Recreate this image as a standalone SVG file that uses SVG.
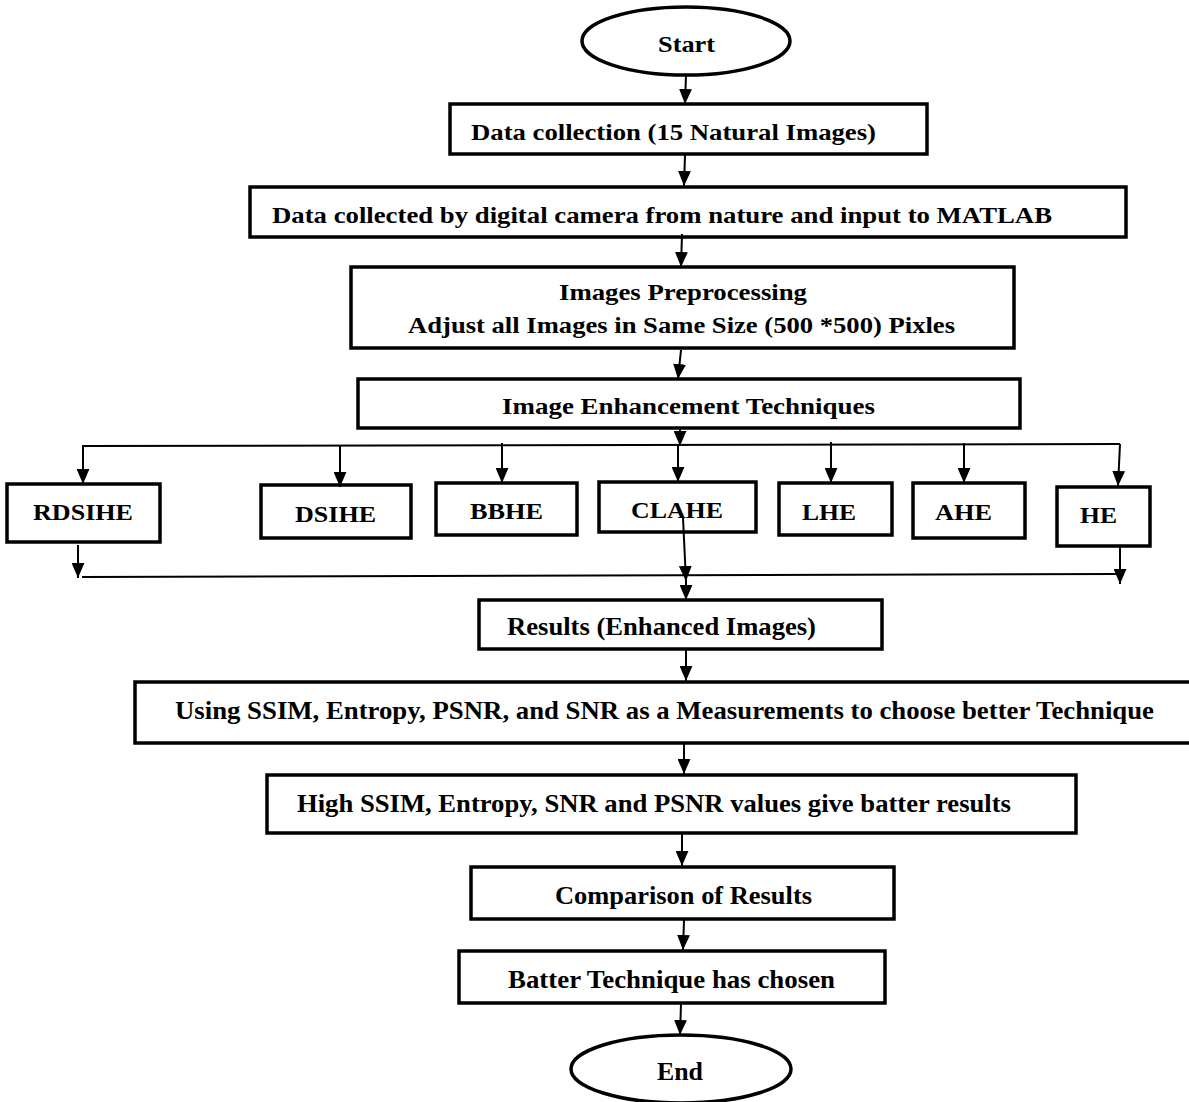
<svg xmlns="http://www.w3.org/2000/svg" width="1189" height="1102" viewBox="0 0 1189 1102">
<defs>
<style>
.box{fill:#fff;stroke:#000;stroke-width:3.5}
.conn{fill:none;stroke:#000;stroke-width:2}
.t{font-family:"Liberation Serif","Times New Roman",serif;font-weight:bold;font-size:24px;fill:#000}
.t2{font-family:"Liberation Serif","Times New Roman",serif;font-weight:bold;font-size:26px;fill:#000}
</style>
<marker id="arr" viewBox="0 0 14 12" refX="14" refY="6" markerWidth="15" markerHeight="13" markerUnits="userSpaceOnUse" orient="auto">
<path d="M0,0 L14,6 L0,12 z" fill="#000"/>
</marker>
</defs>
<rect width="1189" height="1102" fill="#fff"/>

<g id="start">
<ellipse class="box" cx="686" cy="41" rx="104" ry="34"/>
<text class="t" x="658" y="52" textLength="57" lengthAdjust="spacingAndGlyphs">Start</text>
</g>
<g id="data-collection">
<rect class="box" x="450" y="104" width="477" height="50"/>
<text class="t" x="471" y="140" textLength="405" lengthAdjust="spacingAndGlyphs">Data collection (15 Natural Images)</text>
</g>
<g id="data-collected">
<rect class="box" x="250" y="187" width="876" height="50"/>
<text class="t" x="272" y="223" textLength="780" lengthAdjust="spacingAndGlyphs">Data collected by digital camera from nature and input to MATLAB</text>
</g>
<g id="preprocessing">
<rect class="box" x="351" y="267" width="663" height="81"/>
<text class="t" x="559" y="300" textLength="248" lengthAdjust="spacingAndGlyphs">Images Preprocessing</text>
<text class="t" x="408" y="333" textLength="547" lengthAdjust="spacingAndGlyphs">Adjust all Images in Same Size (500 *500) Pixles</text>
</g>
<g id="enhancement">
<rect class="box" x="358" y="379" width="662" height="49"/>
<text class="t" x="502" y="414" textLength="373" lengthAdjust="spacingAndGlyphs">Image Enhancement Techniques</text>
</g>
<g id="rdsihe">
<rect class="box" x="7" y="484" width="153" height="58"/>
<text class="t" x="33" y="520" textLength="100" lengthAdjust="spacingAndGlyphs">RDSIHE</text>
</g>
<g id="dsihe">
<rect class="box" x="261" y="485" width="150" height="53"/>
<text class="t" x="295" y="522" textLength="81" lengthAdjust="spacingAndGlyphs">DSIHE</text>
</g>
<g id="bbhe">
<rect class="box" x="436" y="483" width="141" height="52"/>
<text class="t" x="470" y="519" textLength="73" lengthAdjust="spacingAndGlyphs">BBHE</text>
</g>
<g id="clahe">
<rect class="box" x="599" y="482" width="157" height="50"/>
<text class="t" x="631" y="518" textLength="92" lengthAdjust="spacingAndGlyphs">CLAHE</text>
</g>
<g id="lhe">
<rect class="box" x="779" y="483" width="113" height="52"/>
<text class="t" x="802" y="520" textLength="54" lengthAdjust="spacingAndGlyphs">LHE</text>
</g>
<g id="ahe">
<rect class="box" x="913" y="483" width="112" height="55"/>
<text class="t" x="935" y="520" textLength="57" lengthAdjust="spacingAndGlyphs">AHE</text>
</g>
<g id="he">
<rect class="box" x="1057" y="487" width="93" height="59"/>
<text class="t" x="1080" y="523" textLength="37" lengthAdjust="spacingAndGlyphs">HE</text>
</g>
<g id="results">
<rect class="box" x="479" y="600" width="403" height="49"/>
<text class="t2" x="507" y="635" textLength="309" lengthAdjust="spacingAndGlyphs">Results (Enhanced Images)</text>
</g>
<g id="measurements">
<rect class="box" x="135" y="682" width="1070" height="61"/>
<text class="t2" x="175" y="719" textLength="979" lengthAdjust="spacingAndGlyphs">Using SSIM, Entropy, PSNR, and SNR as a Measurements to choose better Technique</text>
</g>
<g id="high-values">
<rect class="box" x="267" y="775" width="809" height="58"/>
<text class="t2" x="297" y="812" textLength="714" lengthAdjust="spacingAndGlyphs">High SSIM, Entropy, SNR and PSNR values give batter results</text>
</g>
<g id="comparison">
<rect class="box" x="471" y="867" width="423" height="52"/>
<text class="t2" x="555" y="904" textLength="257" lengthAdjust="spacingAndGlyphs">Comparison of Results</text>
</g>
<g id="chosen">
<rect class="box" x="459" y="951" width="426" height="52"/>
<text class="t2" x="508" y="988" textLength="327" lengthAdjust="spacingAndGlyphs">Batter Technique has chosen</text>
</g>
<g id="end">
<ellipse class="box" cx="681" cy="1069" rx="110" ry="34"/>
<text class="t2" x="657" y="1080" textLength="46" lengthAdjust="spacingAndGlyphs">End</text>
</g>

<g id="connectors">
<line class="conn" x1="686" y1="75" x2="685" y2="104" marker-end="url(#arr)"/>
<line class="conn" x1="685" y1="155" x2="684" y2="186" marker-end="url(#arr)"/>
<line class="conn" x1="682" y1="234" x2="681" y2="267" marker-end="url(#arr)"/>
<line class="conn" x1="681" y1="350" x2="678" y2="379" marker-end="url(#arr)"/>
<line class="conn" x1="680" y1="428" x2="680" y2="446" marker-end="url(#arr)"/>
<line class="conn" x1="83" y1="446" x2="1120" y2="444"/>
<line class="conn" x1="83" y1="445" x2="83" y2="484" marker-end="url(#arr)"/>
<line class="conn" x1="340" y1="446" x2="340" y2="487" marker-end="url(#arr)"/>
<line class="conn" x1="502" y1="443" x2="502" y2="483" marker-end="url(#arr)"/>
<line class="conn" x1="678" y1="445" x2="678" y2="482" marker-end="url(#arr)"/>
<line class="conn" x1="831" y1="442" x2="831" y2="483" marker-end="url(#arr)"/>
<line class="conn" x1="964" y1="443" x2="964" y2="483" marker-end="url(#arr)"/>
<line class="conn" x1="1120" y1="444" x2="1118" y2="486" marker-end="url(#arr)"/>
<line class="conn" x1="78" y1="545" x2="78" y2="578" marker-end="url(#arr)"/>
<line class="conn" x1="82" y1="577" x2="1116" y2="574"/>
<line class="conn" x1="683" y1="518" x2="686" y2="581" marker-end="url(#arr)"/>
<line class="conn" x1="686" y1="576" x2="686" y2="600" marker-end="url(#arr)"/>
<line class="conn" x1="1120" y1="546" x2="1120" y2="584" marker-end="url(#arr)"/>
<line class="conn" x1="686" y1="650" x2="686" y2="681" marker-end="url(#arr)"/>
<line class="conn" x1="684" y1="744" x2="684" y2="774" marker-end="url(#arr)"/>
<line class="conn" x1="682" y1="834" x2="682" y2="866" marker-end="url(#arr)"/>
<line class="conn" x1="684" y1="920" x2="683" y2="950" marker-end="url(#arr)"/>
<line class="conn" x1="681" y1="1004" x2="680" y2="1035" marker-end="url(#arr)"/>
</g>
</svg>
